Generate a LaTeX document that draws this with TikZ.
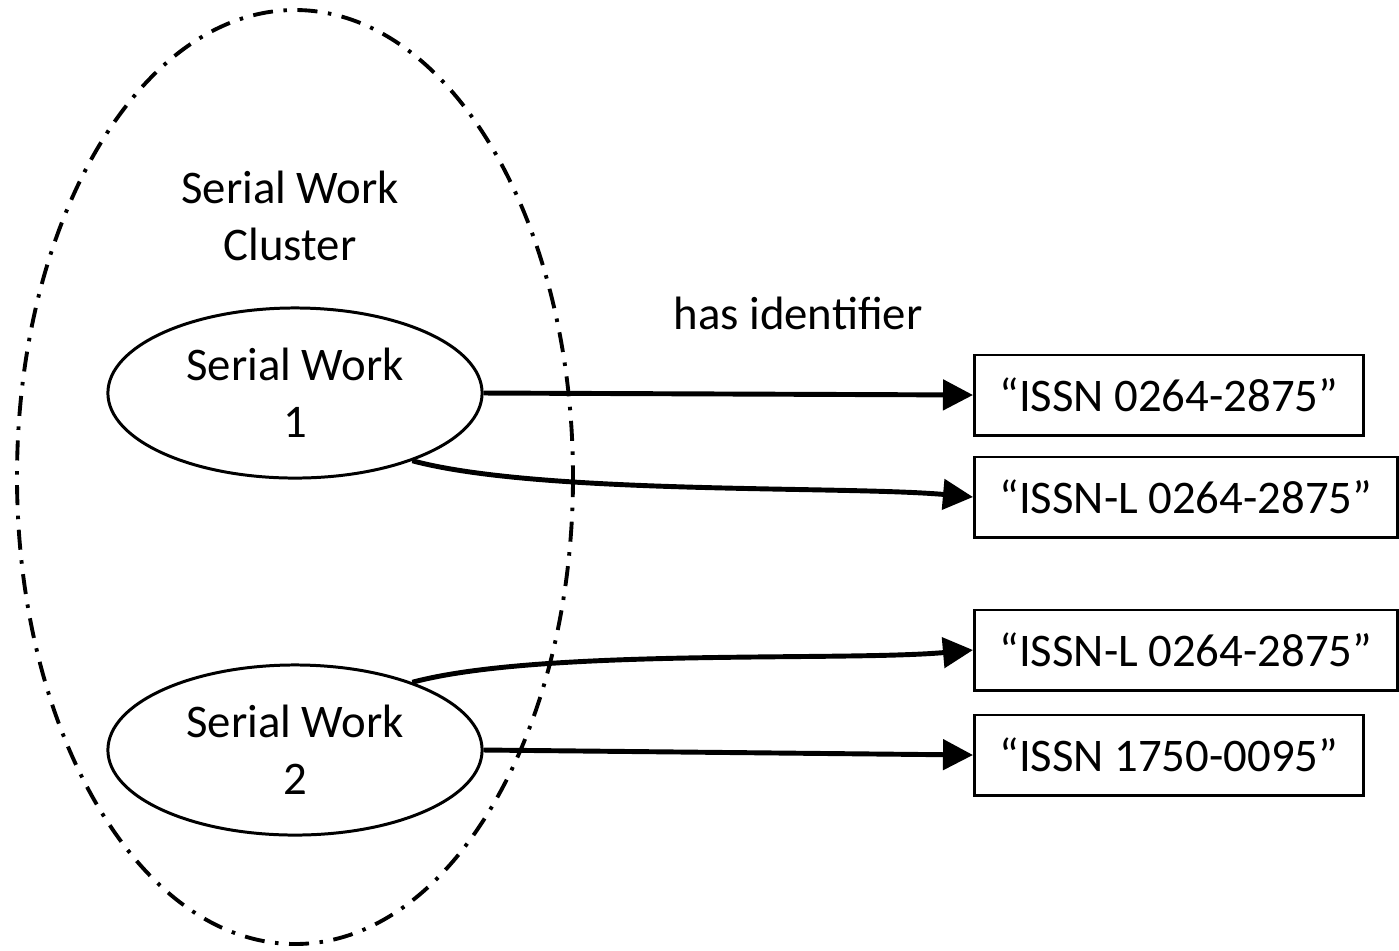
\documentclass[tikz,border=0pt]{standalone}
\usepackage{fontspec}
\setmainfont{Carlito}
\usetikzlibrary{arrows.meta, positioning, shapes.geometric}

\tikzset{
  work/.style={ellipse, draw, line width=0.85pt, minimum width=3.74cm, minimum height=1.7cm, align=center, inner sep=0pt},
  idbox/.style={rectangle, draw, line width=0.85pt, minimum height=0.8cm, inner xsep=0.25cm, anchor=west},
  link/.style={line width=1.4pt, -{Triangle[length=0.3cm, width=0.3cm]}},
}

\begin{document}
\begin{tikzpicture}[x=0.01cm, y=-0.01cm, font=\fontsize{13.3pt}{16.2pt}\selectfont]
    \useasboundingbox (0,0) rectangle (1399,950);

    % Cluster
    \draw[line width=1.1pt, dash pattern=on 5.7pt off 3pt on 1pt off 3pt] (295,477) ellipse [x radius=278, y radius=467];
    \node[align=center] (clusterlabel) at (290,216) {Serial Work\\Cluster};

    % Works
    \node[work] (sw1) at (295,393) {Serial Work\\1};
    \node[work] (sw2) at (295,750) {Serial Work\\2};

    % Identifiers
    \node[idbox] (id1) at (973,395) {“ISSN 0264-2875”};
    \node[idbox] (id2) at (973,497) {“ISSN-L 0264-2875”};
    \node[idbox] (id3) at (973,650) {“ISSN-L 0264-2875”};
    \node[idbox] (id4) at (973,755) {“ISSN 1750-0095”};

    \node (hasid) at (798,313) {has identifier};

    % Links
    \draw[link] (sw1.east) -- (id1.west);
    \draw[link] (sw1.-30) to[out=-15, in=175, looseness=0.6] (id2.west);
    \draw[link] (sw2.30) to[out=15, in=185, looseness=0.6] (id3.west);
    \draw[link] (sw2.east) -- (id4.west);
\end{tikzpicture}
\end{document}
